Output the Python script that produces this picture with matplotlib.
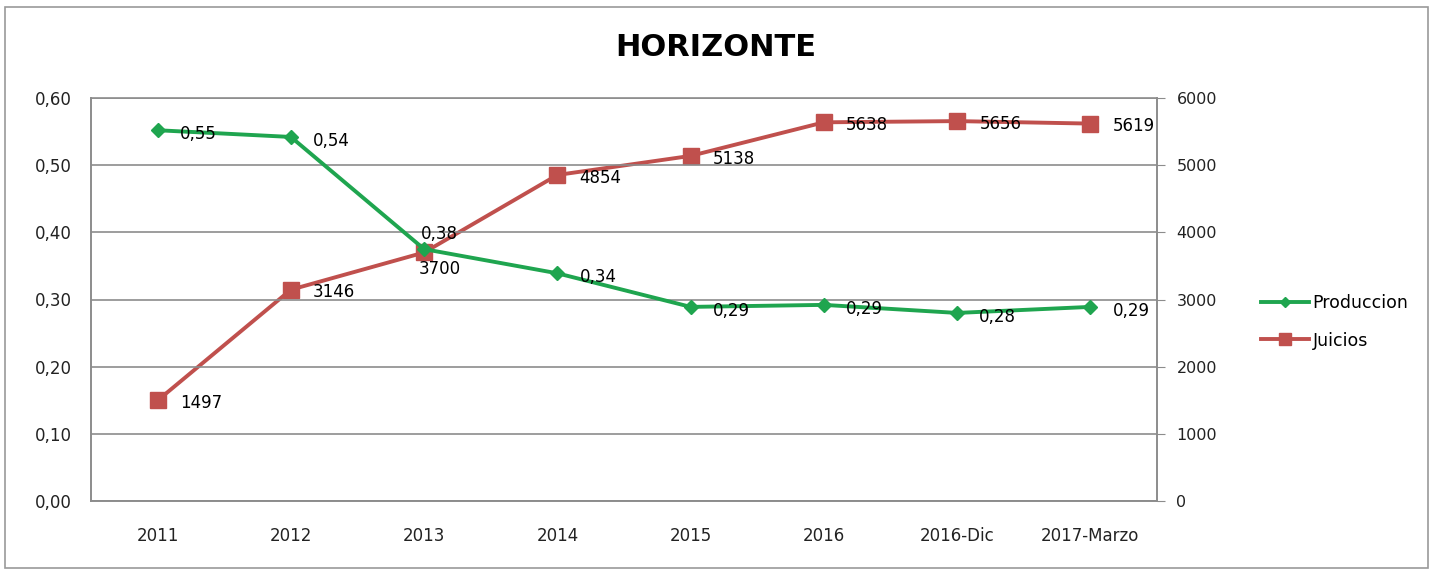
import matplotlib
matplotlib.use("Agg")
import matplotlib.pyplot as plt
from matplotlib.patches import Rectangle

categories = ["2011", "2012", "2013", "2014", "2015", "2016", "2016-Dic", "2017-Marzo"]
produccion = [0.552, 0.542, 0.375, 0.339, 0.289, 0.292, 0.280, 0.289]
produccion_labels = ["0,55", "0,54", "0,38", "0,34", "0,29", "0,29", "0,28", "0,29"]
juicios = [1497, 3146, 3700, 4854, 5138, 5638, 5656, 5619]
left_ticks = [0.0, 0.1, 0.2, 0.3, 0.4, 0.5, 0.6]
left_tick_labels = ["0,00", "0,10", "0,20", "0,30", "0,40", "0,50", "0,60"]
right_ticks = [0, 1000, 2000, 3000, 4000, 5000, 6000]

GREEN = "#1fa54f"
RED = "#c0504d"
GRID = "#8c8c8c"

plt.rcParams['font.family'] = ['DejaVu Sans']

fig = plt.figure(figsize=(14.35, 5.74), dpi=100)
ax = fig.add_axes([91/1435, 1-501/574, (1157-91)/1435, (501-98)/574])
ax2 = ax.twinx()

x = list(range(len(categories)))

ax.set_xlim(-0.5, len(categories)-0.5)
ax.set_ylim(0, 0.6)
ax2.set_ylim(0, 6000)

ax.set_yticks(left_ticks)
ax.set_yticklabels(left_tick_labels, fontsize=12)
ax2.set_yticks(right_ticks)
ax2.set_yticklabels([str(t) for t in right_ticks], fontsize=11.5)
ax.set_xticks(x)
ax.set_xticklabels(categories, fontsize=12)

ax.grid(axis='y', color=GRID, linewidth=1.2)
ax.set_axisbelow(True)
for a in (ax, ax2):
    for s in a.spines.values():
        s.set_color(GRID)
        s.set_linewidth(1.2)
    a.spines['top'].set_visible(False)
ax.axhline(0.6, color=GRID, linewidth=1.2, clip_on=False, zorder=0)
ax.tick_params(axis='x', length=0, pad=19, colors='#222222')
ax.tick_params(axis='y', length=0, pad=14, colors='#222222')
ax2.tick_params(axis='y', length=6, pad=8, colors='#222222')
ax2.tick_params(axis='y', color=GRID)

ax2.plot(x, juicios, color=RED, linewidth=2.8, marker='s', markersize=11,
         label='Juicios', zorder=3)
ax2.set_zorder(1)
ax.set_zorder(2)
ax.patch.set_visible(False)
ln1, = ax.plot(x, produccion, color=GREEN, linewidth=2.8, marker='D', markersize=7,
               label='Produccion', zorder=4)

# data labels
for i, (v, lab) in enumerate(zip(produccion, produccion_labels)):
    if i == 2:
        ax.annotate(lab, (i, v), xytext=(11, 11), textcoords='offset points',
                    ha='center', va='center', fontsize=12, zorder=5)
    else:
        ax.annotate(lab, (i, v), xytext=(16, -3), textcoords='offset points',
                    ha='left', va='center', fontsize=12, zorder=5)
for i, v in enumerate(juicios):
    if i == 2:
        ax2.annotate(str(v), (i, v), xytext=(11, -12), textcoords='offset points',
                     ha='center', va='center', fontsize=12, zorder=5)
    else:
        ax2.annotate(str(v), (i, v), xytext=(16, -2), textcoords='offset points',
                     ha='left', va='center', fontsize=12, zorder=5)

fig.text(716/1435, 1-48/574, "HORIZONTE", ha='center', va='center',
         fontsize=22, fontweight='bold')

h2, l2 = ax2.get_legend_handles_labels()
leg = fig.legend([ln1] + h2, ['Produccion'] + l2, loc='center left',
                 bbox_to_anchor=(1245/1435, 1-322/574), frameon=False,
                 fontsize=12.5, handlelength=2.8, labelspacing=1.1,
                 handletextpad=0.2, markerscale=0.8)

fig.patches.append(Rectangle((5/1435, 6/574), 1423/1435, 561/574,
                             transform=fig.transFigure, fill=False,
                             edgecolor='#9a9a9a', linewidth=1.2))

fig.savefig("out.png", dpi=100)
